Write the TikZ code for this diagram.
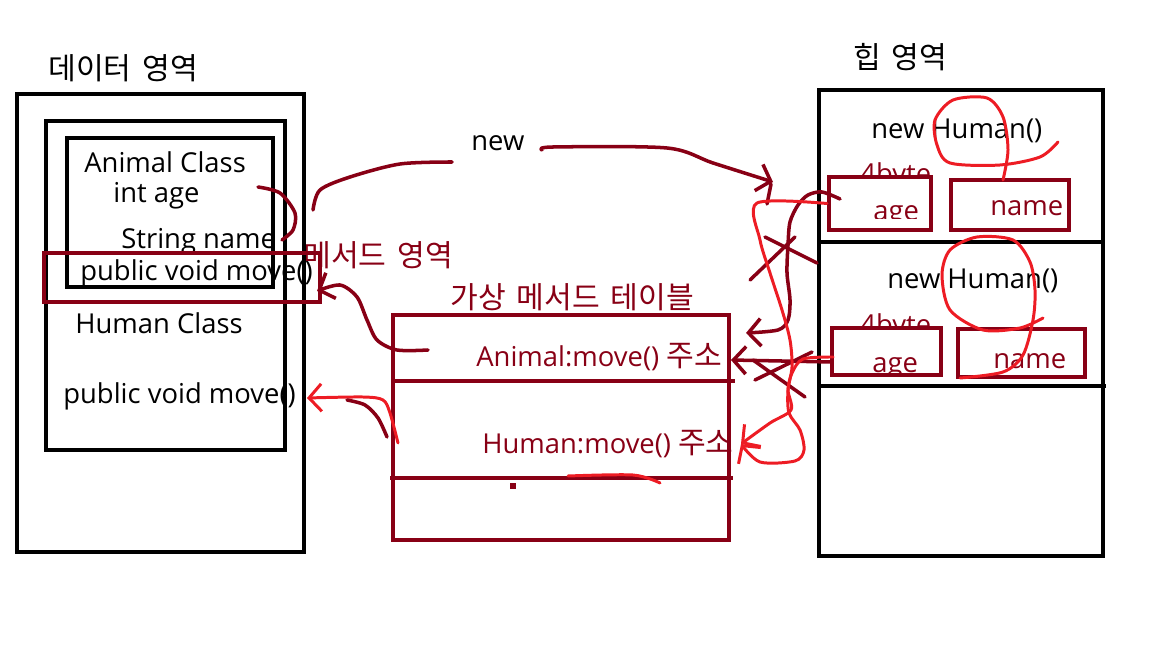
\documentclass[tikz,border=0pt]{standalone}
\usepackage{fontspec}
\setmainfont{Open Sans}
\newfontfamily\kr[Scale=1.1, WordSpace=1.6]{Noto Sans CJK KR}
\usetikzlibrary{arrows.meta}
\usetikzlibrary{fit}

\definecolor{darkred}{RGB}{136,0,21}
\definecolor{pen}{RGB}{237,28,36}

\begin{document}
\begin{tikzpicture}[x=0.02cm, y=-0.02cm]

		\tikzstyle{box} = [draw=black, line width=2.8pt, inner sep=0pt]
		\tikzstyle{redbox} = [draw=darkred, line width=2.3pt, inner sep=0pt]
		\tikzstyle{txt} = [anchor=west, inner sep=0pt, font=\fontsize{15.6}{18}\selectfont]
		\tikzstyle{redtxt} = [txt, text=darkred]
		\tikzstyle{stroke} = [draw=darkred, line width=2pt, line cap=round, line join=round]
		\tikzstyle{penstroke} = [stroke, draw=pen, line width=1.7pt]
		\tikzstyle{edge} = [stroke, -{Straight Barb[length=2.5mm, width=5.5mm]}]
		\tikzstyle{edge_pen} = [penstroke, -{Straight Barb[length=2.5mm, width=5.5mm]}]

		\useasboundingbox (0,0) rectangle (1152,648);

		% data area
		\node[txt](dataT) at (48,68){\kr 데이터 영역};
		\node[txt](animalT) at (84,162){Animal Class};
		\node[txt](ageT) at (113,196){int age};
		\node[txt](nameT) at (121,242){String name};
		\node[txt](moveA) at (80,273){public void move()};
		\node[redtxt](methodT) at (303,255){\kr 메서드 영역};
		\node[txt](humanT) at (75,323){Human Class};
		\node[txt](moveH) at (63,396){public void move()};

		\node[box, fit={(17,94) (304,552)}](data){};
		\node[box, fit={(46,121) (285,450)}](human){};
		\node[box, fit={(67,138) (273,287)}](animal){};
		\node[redbox, fit={(44,253) (320,302)}](method){};

		% virtual method table
		\node[txt](newT) at (471,143){new};
		\node[redtxt](vmtT) at (450,297){\kr 가상 메서드 테이블};
		\node[redtxt](animalAddr) at (476,357){Animal:move() {\kr 주소}};
		\node[redtxt](humanAddr) at (482,444){Human:move() {\kr 주소}};

		\node[redbox, fit={(393,315) (729,540)}](vmt){};
		\draw[redbox] (393,381) -- (735,381);
		\draw[redbox] (390,478) -- (733,478);
		\fill[darkred] (510,483) rectangle (516,489);

		% heap area
		\node[txt](heapT) at (853,57){\kr 힙 영역};
		\node[txt](newH1) at (871,131){new Human()};
		\node[txt](newH2) at (887,281){new Human()};
		\node[redtxt](name1T) at (990,208){name};
		\node[redtxt](name2T) at (993,361){name};
		\begin{scope}
			\clip (800,140) rectangle (960,178);
			\node[redtxt](byte1) at (860,176){4byte};
		\end{scope}
		\begin{scope}
			\clip (800,290) rectangle (960,329);
			\node[redtxt](byte2) at (860,327){4byte};
		\end{scope}
		\begin{scope}
			\clip (840,190) rectangle (925,219);
			\node[redtxt](age1T) at (873,216){age};
		\end{scope}
		\begin{scope}
			\clip (840,340) rectangle (935,372);
			\node[redtxt](age2T) at (872,368){age};
		\end{scope}

		\node[box, fit={(819,90) (1103,556)}](heap){};
		\draw[box] (819,242) -- (1103,242);
		\draw[box] (819,386) -- (1106,386);
		\node[redbox, fit={(829,177) (931,230)}](age1){};
		\node[redbox, fit={(951,180) (1069,230)}](name1){};
		\node[redbox, fit={(832,328) (941,375)}](age2){};
		\node[redbox, fit={(958,329) (1085,377)}](name2){};

		% strokes
		\coordinate (newA) at (313,210);
		\coordinate (newB) at (452,162);
		\coordinate (newC) at (542,150);
		\coordinate (newD) at (773,182);
		\coordinate (age1W) at (840,199);
		\coordinate (age2W) at (832,362);
		\coordinate (animalTip) at (746,333);
		\coordinate (addrTip) at (731,360);
		\coordinate (humanTip) at (741,444);

		\draw[stroke] plot[smooth] coordinates {(newA) (320,190) (350,177) (400,164) (newB)};
		\draw[edge] plot[smooth] coordinates {(newC) (553,147) (667,148) (713,163) (newD)};
		\draw[stroke] (771,184) -- (767,204);

		\draw[edge] plot[smooth] coordinates {(age1W) (822,192) (808,195) (798,205) (790,222) (788,245) (787,273) (790,300) (788,320) (778,330) (animalTip)};
		\draw[stroke] (765,237) -- (817,263);
		\draw[stroke] (750,280) -- (795,237);

		\draw[edge] (age2W) -- (addrTip);
		\draw[stroke] (812,352) -- (755,380);
		\draw[stroke] (753,360) -- (805,397);

		\draw[edge_pen] plot[smooth] coordinates {(age1.west) (757,203) (760,240) (770,273) (782,310) (790,340) (792,367) (788,390) (789,413) (800,430) (804,450) (795,461) (760,462) (humanTip)};
		\draw[edge_pen] plot[smooth] coordinates {(833,357) (803,359) (792,373) (788,390) (791,410) (770,423) (humanTip)};

		\draw[penstroke] plot[smooth] coordinates {(1003,180) (1008,150) (1003,117) (987,98) (953,100) (935,120) (937,145) (950,163) (1000,165) (1040,157) (1058,142)};
		\draw[penstroke] plot[smooth] coordinates {(960,378) (1003,372) (1023,355) (1033,320) (1035,290) (1030,262) (1013,240) (977,237) (950,250) (942,275) (950,310) (983,330) (1020,328) (1043,318)};

		\draw[stroke] plot[smooth] coordinates {(258,187) (280,193) (295,213) (293,230) (282,240)};
		\draw[edge] plot[smooth] coordinates {(428,350) (397,350) (377,340) (367,320) (357,297) (340,285) (317,291)};
		\draw[edge_pen] plot[smooth] coordinates {(398,443) (390,413) (383,400) (363,397) (307,398)};
		\draw[stroke] plot[smooth] coordinates {(387,437) (378,418) (365,405) (347,400)};
		\draw[penstroke] plot[smooth] coordinates {(568,476) (633,475) (660,483)};

\end{tikzpicture}
\end{document}
